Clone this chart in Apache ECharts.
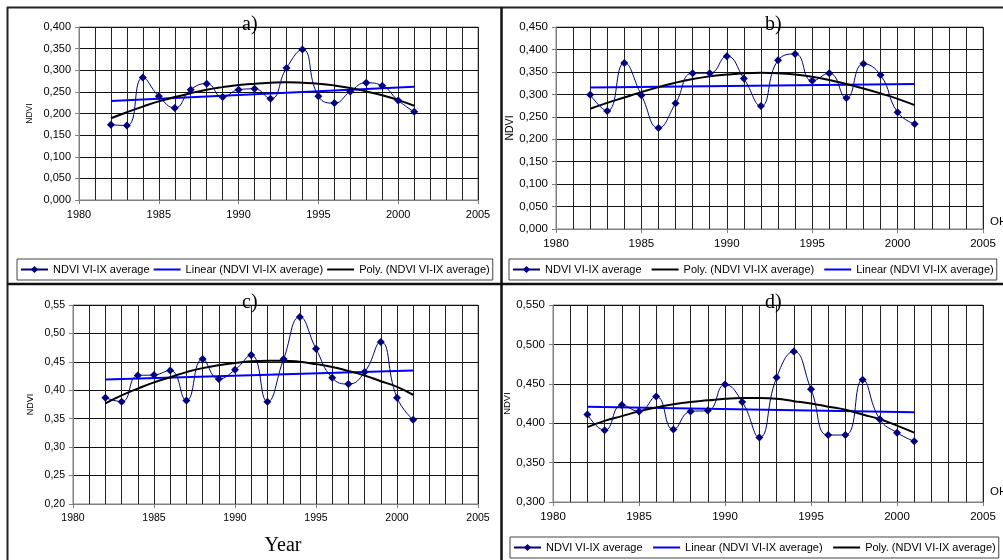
<!DOCTYPE html>
<html>
<head>
<meta charset="utf-8">
<script src="https://cdn.jsdelivr.net/npm/echarts@6/dist/echarts.min.js"></script>
<style>html,body{margin:0;padding:0;background:#fff;}#c{width:1003px;height:560px;}</style>
</head>
<body>
<div id="c"></div>
<script>
const years = [1982,1983,1984,1985,1986,1987,1988,1989,1990,1991,1992,1993,1994,1995,1996,1997,1998,1999,2000,2001];
const trendYears = [1982, 2001];
const panelTitles = ['a)', 'b)', 'c)', 'd)'];
const seriesNames = ['NDVI VI-IX average', 'Linear (NDVI VI-IX average)', 'Poly. (NDVI VI-IX average)'];

const ndviA = [0.174,0.172,0.283,0.240,0.213,0.255,0.269,0.238,0.255,0.257,0.234,0.305,0.348,0.240,0.224,0.251,0.271,0.264,0.230,0.204];
const linA = [0.229, 0.262];
const polyA = [0.189,0.203,0.216,0.228,0.238,0.247,0.255,0.261,0.266,0.269,0.271,0.272,0.271,0.269,0.265,0.259,0.251,0.242,0.231,0.218];

const ndviB = [0.299,0.263,0.370,0.298,0.225,0.280,0.347,0.347,0.385,0.335,0.274,0.376,0.390,0.330,0.347,0.292,0.368,0.343,0.260,0.234];
const linB = [0.315, 0.323];
const polyB = [0.268,0.281,0.293,0.305,0.316,0.326,0.334,0.340,0.344,0.347,0.348,0.347,0.344,0.339,0.332,0.323,0.313,0.302,0.290,0.276];

const ndviC = [0.387,0.380,0.426,0.427,0.435,0.382,0.455,0.420,0.436,0.462,0.380,0.455,0.529,0.473,0.422,0.411,0.432,0.485,0.387,0.348];
const linC = [0.419, 0.435];
const polyC = [0.377,0.391,0.403,0.414,0.423,0.432,0.439,0.444,0.448,0.451,0.452,0.452,0.450,0.446,0.441,0.434,0.426,0.416,0.406,0.392];

const ndviD = [0.411,0.391,0.423,0.415,0.434,0.392,0.415,0.416,0.449,0.427,0.382,0.458,0.491,0.443,0.385,0.385,0.455,0.405,0.388,0.377];
const linD = [0.421, 0.414];
const polyD = [0.395,0.403,0.409,0.415,0.420,0.424,0.427,0.429,0.431,0.432,0.432,0.431,0.428,0.425,0.421,0.417,0.411,0.405,0.397,0.388];

const yMin = [0.0, 0.0, 0.20, 0.300];
const yMax = [0.400, 0.450, 0.55, 0.550];
const yDecimals = [3, 3, 2, 3];

const panels = [
  {ndvi: ndviA, lin: linA, poly: polyA},
  {ndvi: ndviB, lin: linB, poly: polyB},
  {ndvi: ndviC, lin: linC, poly: polyC},
  {ndvi: ndviD, lin: linD, poly: polyD}
];

const layout = [
  {grid:{left:79, top:27, width:399, height:173}, fs:11, xfs:11, nfs:8.5, ngap:45, title:{left:242, top:15}, legend:{left:17, top:259, gap:3}, order:[0,1,2]},
  {grid:{left:556, top:27, width:427, height:202}, fs:11.5, xfs:11.5, nfs:10.5, ngap:40, title:{left:765, top:15}, legend:{left:509, top:259, gap:9}, order:[0,2,1], oh:{lh:14}},
  {grid:{left:73, top:305, width:405, height:199}, fs:10.5, xfs:10.5, nfs:9, ngap:38, title:{left:242, top:293}},
  {grid:{left:553, top:305, width:430, height:197}, fs:11.5, xfs:11.5, nfs:9.5, ngap:36, title:{left:765, top:293}, legend:{left:510, top:537, gap:9.5}, order:[0,1,2], oh:{lh:20}}
];

const FONT = '"Liberation Sans", Arial, sans-serif';
const SERIF = '"Liberation Serif", "Times New Roman", serif';

const option = {
  animation: false,
  backgroundColor: '#fff',
  title: [], grid: [], xAxis: [], yAxis: [], series: [], legend: [],
  graphic: [
    {type:'line', shape:{x1:7, y1:7.5, x2:1003, y2:7.5}, style:{stroke:'#222', lineWidth:2}},
    {type:'line', shape:{x1:7.5, y1:7, x2:7.5, y2:560}, style:{stroke:'#222', lineWidth:2}},
    {type:'line', shape:{x1:7, y1:284, x2:1003, y2:284}, style:{stroke:'#111', lineWidth:2.5}},
    {type:'line', shape:{x1:501.5, y1:7, x2:501.5, y2:560}, style:{stroke:'#111', lineWidth:2.5}}
  ]
};

layout.forEach((L, i) => {
  const P = panels[i];
  option.grid.push(Object.assign({show:true, borderColor:'#808080', borderWidth:1, backgroundColor:'transparent', containLabel:false, outerBoundsMode:'none'}, L.grid));
  option.title.push({text: panelTitles[i], left: L.title.left, top: L.title.top, padding:0,
    textStyle:{fontFamily:SERIF, fontSize:20, fontWeight:'normal', color:'#000'}});
  const xa = {
    type:'value', gridIndex:i, min:1980, max:2005, interval:5,
    axisLine:{show:true, onZero:false, lineStyle:{color:'#808080', width:1}},
    axisTick:{show:true, inside:false, length:4, lineStyle:{color:'#808080'}},
    axisLabel:{fontFamily:FONT, fontSize:L.xfs, color:'#000', margin:9, formatter: v => String(v)},
    splitLine:{show:true, lineStyle:{color:'#222', width:1}},
    minorTick:{show:false, splitNumber:5},
    minorSplitLine:{show:true, lineStyle:{color:'#222', width:1}}
  };
  if (i === 2) {
    xa.name = 'Year'; xa.nameLocation = 'middle'; xa.nameGap = 32;
    xa.nameTextStyle = {fontFamily:SERIF, fontSize:20, color:'#000', padding:[0,0,0,15]};
  }
  if (L.oh) {
    xa.name = 'OH'; xa.nameLocation = 'end'; xa.nameGap = 7;
    xa.nameTextStyle = {fontFamily:FONT, fontSize:11.5, color:'#000', verticalAlign:'bottom', lineHeight:L.oh.lh};
  }
  option.xAxis.push(xa);
  option.yAxis.push({
    type:'value', gridIndex:i, min:yMin[i], max:yMax[i], interval:0.05,
    name:'NDVI', nameLocation:'middle', nameGap:L.ngap, nameRotate:90,
    nameTextStyle:{fontFamily:FONT, fontSize:L.nfs, color:'#000'},
    axisLine:{show:true, onZero:false, lineStyle:{color:'#808080', width:1}},
    axisTick:{show:true, inside:false, length:4, lineStyle:{color:'#808080'}},
    axisLabel:{fontFamily:FONT, fontSize:L.fs, color:'#000', margin:8,
      formatter: v => v.toFixed(yDecimals[i]).replace('.', ',')},
    splitLine:{show:true, lineStyle:{color:'#111', width:1}}
  });
  option.series.push({
    name: seriesNames[0], type:'line', xAxisIndex:i, yAxisIndex:i,
    data: years.map((y, k) => [y, P.ndvi[k]]),
    smooth: 0.5, symbol:'diamond', symbolSize:8, showSymbol:true,
    lineStyle:{color:'#000080', width:1}, itemStyle:{color:'#000080'}, z:4
  });
  option.series.push({
    name: seriesNames[1], type:'line', xAxisIndex:i, yAxisIndex:i,
    data: trendYears.map((y, k) => [y, P.lin[k]]),
    symbol:'none', lineStyle:{color:'#0000FF', width:2}, itemStyle:{color:'#0000FF'}, z:3
  });
  option.series.push({
    name: seriesNames[2], type:'line', xAxisIndex:i, yAxisIndex:i,
    data: years.map((y, k) => [y, P.poly[k]]),
    smooth: true, symbol:'none', lineStyle:{color:'#000', width:2}, itemStyle:{color:'#000'}, z:3
  });
  if (L.legend) {
    option.legend.push({
      left: L.legend.left, top: L.legend.top, orient:'horizontal',
      data: L.order.map(k => k === 0 ? {name: seriesNames[k]} : {name: seriesNames[k], itemStyle:{opacity:0}}),
      itemWidth:27, itemHeight:9, itemGap:L.legend.gap, padding:[5,3],
      borderColor:'#444', borderWidth:1, backgroundColor:'#fff',
      textStyle:{fontFamily:FONT, fontSize:11, color:'#000'},
      selectedMode:false
    });
  }
});

const chart = echarts.init(document.getElementById('c'), null, {renderer:'canvas'});
chart.setOption(option);
</script>
</body>
</html>
